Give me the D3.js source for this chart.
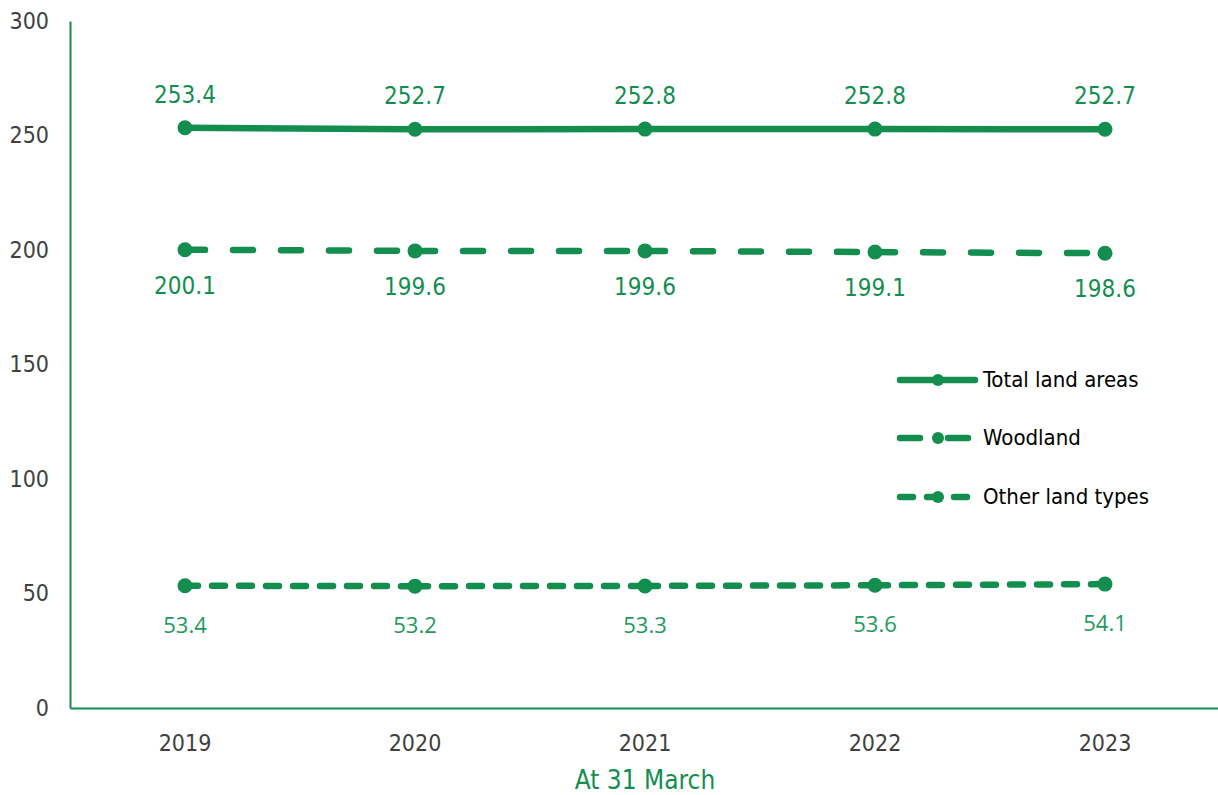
<!DOCTYPE html>
<html>
<head>
<meta charset="utf-8">
<script src="https://cdn.jsdelivr.net/npm/d3@7"></script>
<style>
  body { margin: 0; background: #fff; }
  svg { display: block; }
</style>
</head>
<body>
<svg id="chart"></svg>
<script>
// Chart data
const years = ['2019', '2020', '2021', '2022', '2023'];
const totalLand = [253.4, 252.7, 252.8, 252.8, 252.7];
const woodland = [200.1, 199.6, 199.6, 199.1, 198.6];
const otherLand = [53.4, 53.2, 53.3, 53.6, 54.1];
const yTicks = [0, 50, 100, 150, 200, 250, 300];
const seriesNames = ['Total land areas', 'Woodland', 'Other land types'];

const width = 1218;
const height = 795;
const green = '#138e4f';
const mainFont = 'DejaVu Sans Condensed, DejaVu Sans, sans-serif';

const svg = d3.select('#chart')
    .attr('width', width)
    .attr('height', height);

// Scales
const x = d3.scaleBand().domain(years).range([70, 1220]);
const y = d3.scaleLinear().domain([0, 300]).range([708, 21]);
const cx = d => x(d) + x.bandwidth() / 2;

// Y axis
const yAxis = svg.append('g')
    .attr('transform', 'translate(70,0)')
    .call(d3.axisLeft(y).tickValues(yTicks).tickSize(0).tickPadding(21));
yAxis.select('.domain').attr('stroke', green).attr('stroke-width', 2);
yAxis.selectAll('text')
    .attr('fill', '#404040')
    .style('font-family', mainFont)
    .style('font-size', '23px');

// X axis
const xAxis = svg.append('g')
    .attr('transform', 'translate(0,708)')
    .call(d3.axisBottom(x).tickSize(0).tickPadding(0));
xAxis.select('.domain').attr('stroke', green).attr('stroke-width', 2);
xAxis.selectAll('text')
    .attr('fill', '#404040')
    .attr('y', 43)
    .attr('dy', null)
    .style('font-family', mainFont)
    .style('font-size', '23px');

// X axis title
svg.append('text')
    .attr('x', cx('2021'))
    .attr('y', 789)
    .attr('text-anchor', 'middle')
    .attr('fill', green)
    .style('font-family', mainFont)
    .style('font-size', '26px')
    .text('At 31 March');

// Series settings
const series = [
    { name: seriesNames[0], values: totalLand, dash: null, labelPos: 'above' },
    { name: seriesNames[1], values: woodland, dash: '20,28', labelPos: 'below' },
    { name: seriesNames[2], values: otherLand, dash: '13,14', labelPos: 'belowSmall' }
];

const line = d3.line().x(d => cx(d.year)).y(d => y(d.value));

series.forEach(s => {
    const pts = years.map((yr, i) => ({ year: yr, value: s.values[i] }));
    const g = svg.append('g');

    // Each segment restarts the dash pattern, as in the original chart
    const segs = d3.pairs(pts);
    g.selectAll('path')
        .data(segs)
        .enter().append('path')
        .attr('d', line)
        .attr('fill', 'none')
        .attr('stroke', green)
        .attr('stroke-width', 6.5)
        .attr('stroke-linecap', 'round')
        .attr('stroke-dasharray', s.dash);

    g.selectAll('circle')
        .data(pts)
        .enter().append('circle')
        .attr('cx', d => cx(d.year))
        .attr('cy', d => y(d.value))
        .attr('r', 7.5)
        .attr('fill', green);

    // Value labels
    const small = s.labelPos === 'belowSmall';
    g.selectAll('text')
        .data(pts)
        .enter().append('text')
        .attr('x', d => cx(d.year))
        .attr('y', d => {
            if (s.labelPos === 'above') return y(d.value) - 25;
            if (s.labelPos === 'below') return y(d.value) + 44;
            return y(d.value) + 47;
        })
        .attr('text-anchor', 'middle')
        .attr('fill', small ? '#239a5c' : green)
        .style('font-family', small ? 'Open Sans, sans-serif' : mainFont)
        .style('font-size', small ? '22px' : '24px')
        .text(d => d.value.toFixed(1));
});

// Legend
const legendY = [380, 438, 497];
const legend = svg.append('g');
series.forEach((s, i) => {
    const ly = legendY[i];
    legend.append('line')
        .attr('x1', 900).attr('x2', 975)
        .attr('y1', ly).attr('y2', ly)
        .attr('stroke', green)
        .attr('stroke-width', 6.5)
        .attr('stroke-linecap', 'round')
        .attr('stroke-dasharray', s.dash);
    legend.append('circle')
        .attr('cx', 938).attr('cy', ly)
        .attr('r', 6)
        .attr('fill', green);
    legend.append('text')
        .attr('x', 983)
        .attr('y', ly + 7)
        .attr('fill', '#000')
        .style('font-family', mainFont)
        .style('font-size', '22px')
        .text(s.name);
});
</script>
</body>
</html>
